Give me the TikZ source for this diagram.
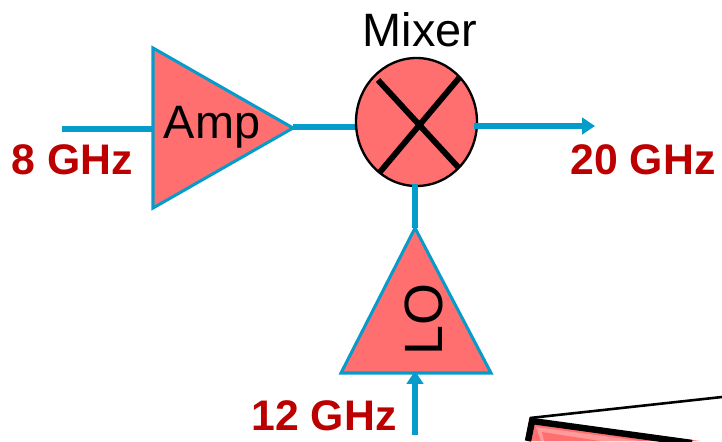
\documentclass[tikz,border=0pt]{standalone}
\usepackage{fontspec}
\setmainfont{Liberation Sans}
\usetikzlibrary{arrows.meta,shapes.geometric}
\definecolor{fillred}{HTML}{FF6F6F}
\definecolor{fillpale}{HTML}{FF9A9A}
\definecolor{wireblue}{HTML}{059CCC}
\definecolor{labelred}{HTML}{BC0000}
\tikzset{
  wire/.style={draw=wireblue,line width=4.6pt},
  arrowed/.style={wire,-{Triangle[length=11pt,width=14pt]}},
  part/.style={fill=fillred,draw=wireblue,line width=2.6pt,line join=miter},
  cross/.style={draw=black,line width=5pt},
  lab/.style={font=\bfseries\fontsize{36.5pt}{40pt}\selectfont,text=labelred,inner sep=0pt},
  txt/.style={font=\fontsize{40pt}{44pt}\selectfont,inner sep=0pt},
  txtbig/.style={font=\fontsize{46pt}{50pt}\selectfont,inner sep=0pt},
}
\begin{document}
\begin{tikzpicture}[x=0.03cm,y=-0.03cm]
\useasboundingbox (0,0) rectangle (722,441);
% corner element
\draw[black,line width=2.2pt] (722,397) -- (530,418);
\fill[fillred] (530,420) -- (700,441) -- (527,441) -- cycle;
\fill[fillpale] (536,427) -- (640,441) -- (541,441) -- cycle;
\fill[fillred] (542,432) -- (600,441) -- (544,441) -- cycle;
\draw[black,line width=5.5pt,line join=miter] (528,441) -- (532,421) -- (692,443);
\coordinate (inL) at (62,129);
\coordinate (mixOut) at (474,126);
\coordinate (outR) at (595,126);
\coordinate (inB) at (415,435);
\coordinate (loIn) at (415,371);
\coordinate (ampL) at (153,129);
\coordinate (ampR) at (293,127);
\coordinate (loT) at (415,228);
\coordinate (mixS) at (415,184);
\coordinate (mixW) at (356,127);
\draw[wire] (inL) -- (ampL);
\draw[wire] (ampR) -- (mixW);
\node[ellipse,minimum width=3.63cm,minimum height=3.84cm,inner sep=0pt,fill=fillred,draw=black,line width=2pt] (mix) at (416.5,122) {};
\draw[part] (153,48) -- (293,128) -- (153,208) -- cycle;
\draw[part] (415,228) -- (491,373) -- (341,373) -- cycle;
\draw[arrowed] (mixOut) -- (outR);
\draw[wire] (mixS) -- (loT);
\draw[arrowed] (inB) -- (loIn);
\draw[cross] (378,80) -- (458,167) (459,78) -- (380,172);
\node[txt] (t1) at (212,127) {Amp};
\node[txt] (t2) at (420,30) {Mixer};
\node[txtbig,rotate=90] (t3) at (424,320) {LO};
\node[lab] (l1) at (72,160) {8 GHz};
\node[lab] (l2) at (643,160) {20 GHz};
\node[lab] (l3) at (324,416) {12 GHz};
\end{tikzpicture}
\end{document}
